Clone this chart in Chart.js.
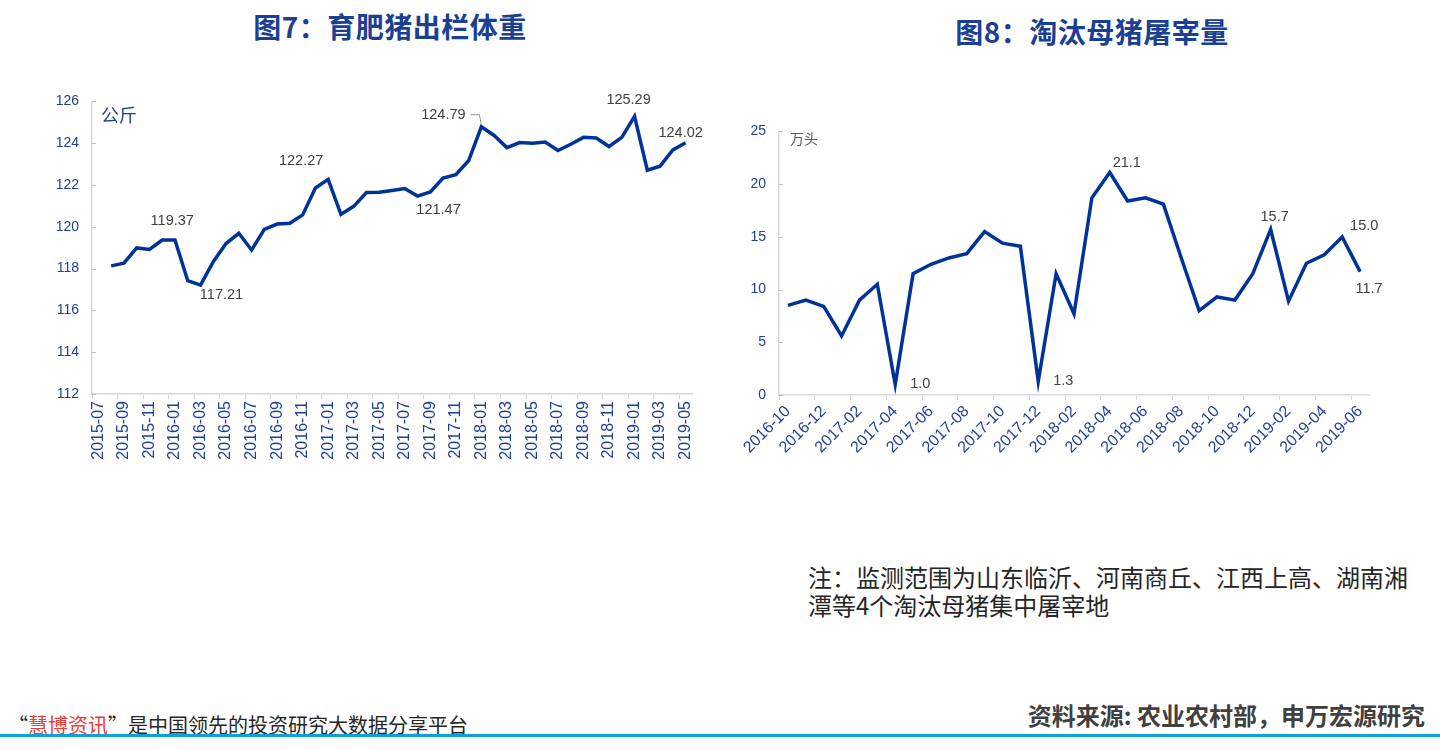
<!DOCTYPE html>
<html>
<head>
<meta charset="utf-8">
<script src="https://cdn.jsdelivr.net/npm/chart.js@4.4.1/dist/chart.umd.min.js"></script>
<style>
  body { margin: 0; width: 1440px; height: 750px; background: #fff; position: relative; overflow: hidden;
         font-family: "Noto Sans CJK SC", "Noto Sans", sans-serif; }
  .title { position: absolute; font-weight: bold; color: #1b3f94; font-size: 28px; line-height: 1;
           letter-spacing: 0.5px; white-space: nowrap; transform: translateX(-50%); }
  canvas { position: absolute; }
  .note { position: absolute; left: 808px; top: 563px; font-size: 24px; line-height: 28px; color: #262626; }
  .src { position: absolute; right: 15px; top: 703px; font-size: 24px; line-height: 1; font-weight: bold; color: #404040; white-space: nowrap; }
  .slogan { position: absolute; left: 8px; top: 715px; font-size: 20px; line-height: 1; color: #262626; white-space: nowrap; }
  .slogan span { color: #e8413c; }
  .rule { position: absolute; left: 0; top: 734px; width: 1440px; height: 3px; background: #0ca0dc; }
</style>
</head>
<body>
<div class="title" style="left:390px; top:12px;">图7：育肥猪出栏体重</div>
<div class="title" style="left:1092px; top:17px;">图8：淘汰母猪屠宰量</div>

<canvas id="weightChart" width="710" height="400" style="left:0; top:80px;"></canvas>
<canvas id="cullChart" width="720" height="380" style="left:720px; top:110px;"></canvas>

<div class="note">注：监测范围为山东临沂、河南商丘、江西上高、湖南湘<br>潭等4个淘汰母猪集中屠宰地</div>
<div class="slogan">“<span>慧博资讯</span>”是中国领先的投资研究大数据分享平台</div>
<div class="src">资料来源: 农业农村部，申万宏源研究</div>
<div class="rule"></div>

<script>
// 图7 育肥猪出栏体重 (公斤), 2015-07 .. 2019-05
const weightMonths = [
  "2015-07","2015-08","2015-09","2015-10","2015-11","2015-12",
  "2016-01","2016-02","2016-03","2016-04","2016-05","2016-06","2016-07","2016-08","2016-09","2016-10","2016-11","2016-12",
  "2017-01","2017-02","2017-03","2017-04","2017-05","2017-06","2017-07","2017-08","2017-09","2017-10","2017-11","2017-12",
  "2018-01","2018-02","2018-03","2018-04","2018-05","2018-06","2018-07","2018-08","2018-09","2018-10","2018-11","2018-12",
  "2019-01","2019-02","2019-03","2019-04","2019-05"
];
const weightValues = [
  null, 118.13, 118.26, 118.99, 118.92, 119.37,
  119.37, 117.42, 117.21, 118.33, 119.20, 119.69, 118.89, 119.88, 120.13, 120.17, 120.57, 121.86,
  122.27, 120.60, 120.98, 121.64, 121.65, 121.74, 121.83, 121.47, 121.67, 122.33, 122.49, 123.16,
  124.79, 124.37, 123.79, 124.03, 124.00, 124.06, 123.65, 123.95, 124.28, 124.25, 123.84, 124.28,
  125.29, 122.71, 122.90, 123.68, 124.02
];
const weightTicks = { min: 112, max: 126, step: 2 };

// 图8 淘汰母猪屠宰量 (万头), 2016-10 .. 2019-06
const cullMonths = [
  "2016-10","2016-11","2016-12",
  "2017-01","2017-02","2017-03","2017-04","2017-05","2017-06","2017-07","2017-08","2017-09","2017-10","2017-11","2017-12",
  "2018-01","2018-02","2018-03","2018-04","2018-05","2018-06","2018-07","2018-08","2018-09","2018-10","2018-11","2018-12",
  "2019-01","2019-02","2019-03","2019-04","2019-05","2019-06"
];
const cullValues = [
  8.5, 9.0, 8.4,
  5.6, 9.0, 10.5, 1.0, 11.5, 12.4, 13.0, 13.4, 15.5, 14.4, 14.1, 1.3,
  11.5, 7.7, 18.7, 21.1, 18.4, 18.7, 18.1, 13.0, 8.0, 9.3, 9.0, 11.5,
  15.7, 8.9, 12.5, 13.3, 15.0, 11.7
];
const cullTicks = { min: 0, max: 25, step: 5 };

// which points get a value label, and where the text sits relative to the point
const weightCallouts = [
  { i: 5, dx: 10, dy: -19 },
  { i: 8, dx: 21, dy: 10 },
  { i: 18, dx: -27, dy: -18 },
  { i: 25, dx: 21, dy: 14 },
  { i: 30, dx: -38, dy: -12, leader: true },
  { i: 42, dx: -6, dy: -16 },
  { i: 46, dx: -5, dy: -10 }
];
const cullCallouts = [
  { i: 6, dx: 25, dy: 0 },
  { i: 14, dx: 25, dy: 0 },
  { i: 18, dx: 17, dy: -10 },
  { i: 27, dx: 4, dy: -12 },
  { i: 31, dx: 22, dy: -11 },
  { i: 32, dx: 9, dy: 17 }
];

const BLUE = "#003399";
const TICK_BLUE = "#1f3f9a";
const AXIS_GREY = "#d9d9d9";
const NUM_FONT = '"Liberation Sans", Arial, sans-serif';
const CJK_FONT = '"Noto Sans CJK SC", sans-serif';

function decorPlugin(callouts, digits, unit) {
  return {
    id: "decor",
    afterDraw(chart) {
      const ctx = chart.ctx;
      const area = chart.chartArea;
      const meta = chart.getDatasetMeta(0);
      const yScale = chart.scales.y;
      ctx.save();

      // short inward tick marks on the value axis
      ctx.strokeStyle = "#bfbfbf";
      ctx.lineWidth = 1;
      yScale.ticks.forEach(t => {
        const y = Math.round(yScale.getPixelForValue(t.value)) + 0.5;
        ctx.beginPath();
        ctx.moveTo(area.left, y);
        ctx.lineTo(area.left + 4, y);
        ctx.stroke();
      });

      // value labels
      ctx.font = "14.5px " + NUM_FONT;
      ctx.fillStyle = "#404040";
      ctx.textAlign = "center";
      ctx.textBaseline = "middle";
      callouts.forEach(c => {
        const pt = meta.data[c.i];
        const v = chart.data.datasets[0].data[c.i];
        const tx = pt.x + c.dx, ty = pt.y + c.dy;
        ctx.fillText(v.toFixed(digits), tx, ty);
        if (c.leader) {
          const w = ctx.measureText(v.toFixed(digits)).width;
          ctx.strokeStyle = "#999";
          ctx.beginPath();
          ctx.moveTo(tx + w / 2 + 5, ty);
          ctx.lineTo(pt.x - 2, ty);
          ctx.lineTo(pt.x, pt.y - 2);
          ctx.stroke();
        }
      });

      // unit label in the top-left corner of the plot
      ctx.font = unit.size + "px " + CJK_FONT;
      ctx.fillStyle = unit.color;
      ctx.textAlign = "left";
      ctx.fillText(unit.text, area.left + unit.dx, area.top + unit.dy);
      ctx.restore();
    }
  };
}

function everyOther(value, index) {
  return index % 2 === 0 ? this.getLabelForValue(value) : "";
}

function buildChart(canvasId, labels, values, ticks, opts) {
  return new Chart(document.getElementById(canvasId), {
    type: "line",
    data: {
      labels: labels,
      datasets: [{
        data: values,
        borderColor: BLUE,
        borderWidth: 3.5,
        pointRadius: 0,
        tension: 0,
        fill: false
      }]
    },
    options: {
      responsive: false,
      animation: false,
      layout: { padding: opts.padding },
      plugins: { legend: { display: false }, tooltip: { enabled: false } },
      scales: {
        x: {
          offset: true,
          grid: {
            offset: true,
            drawOnChartArea: false,
            tickLength: 5,
            tickColor: c => (c.index % 2 === 0 ? AXIS_GREY : "rgba(0,0,0,0)")
          },
          border: { color: AXIS_GREY, width: 1.5 },
          ticks: {
            autoSkip: false,
            maxRotation: opts.rotation,
            minRotation: opts.rotation,
            padding: 2,
            color: TICK_BLUE,
            font: { size: 16, family: NUM_FONT },
            callback: everyOther
          },
          afterFit: s => { s.height = opts.xHeight; }
        },
        y: {
          min: ticks.min,
          max: ticks.max,
          grid: { drawOnChartArea: false, drawTicks: false },
          border: { color: AXIS_GREY, width: 1.5 },
          ticks: {
            stepSize: ticks.step,
            padding: 13,
            color: TICK_BLUE,
            font: { size: 14, family: NUM_FONT }
          },
          afterFit: s => { s.width = opts.yWidth; }
        }
      }
    },
    plugins: [decorPlugin(opts.callouts, opts.digits, opts.unit)]
  });
}

buildChart("weightChart", weightMonths, weightValues, weightTicks, {
  padding: { left: 0, right: 18, top: 18, bottom: 6 },
  xHeight: 80,
  yWidth: 92,
  rotation: 90,
  callouts: weightCallouts,
  digits: 2,
  unit: { text: "公斤", size: 18, color: "#1f3f9a", dx: 9, dy: 14 }
});

buildChart("cullChart", cullMonths, cullValues, cullTicks, {
  padding: { left: 0, right: 71, top: 21, bottom: 5 },
  xHeight: 90,
  yWidth: 59,
  rotation: 45,
  callouts: cullCallouts,
  digits: 1,
  unit: { text: "万头", size: 14, color: "#595959", dx: 11, dy: 7 }
});
</script>
</body>
</html>
